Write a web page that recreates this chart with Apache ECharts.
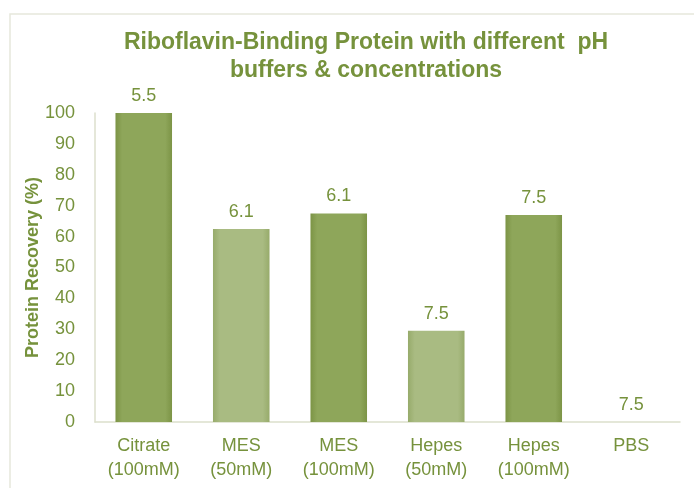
<!DOCTYPE html>
<html>
<head>
<meta charset="utf-8">
<script src="https://cdn.jsdelivr.net/npm/echarts@6/dist/echarts.min.js"></script>
<style>
  html, body { margin: 0; padding: 0; background: #fff; }
  #main { width: 694px; height: 488px; }
</style>
</head>
<body>
<div id="main"></div>
<script>
var categories = ['Citrate\n(100mM)', 'MES\n(50mM)', 'MES\n(100mM)', 'Hepes\n(50mM)', 'Hepes\n(100mM)', 'PBS'];
var recovery = [100, 62.5, 67.5, 29.5, 67, 0];
var phLabels = ['5.5', '6.1', '6.1', '7.5', '7.5', '7.5'];
var isLight = [false, true, false, true, false, false];

var green = '#76923c';

function barFill(light) {
    var edge = light ? '#97ab6b' : '#7c9446';
    var mid = light ? '#a9bb82' : '#8ea65a';
    return new echarts.graphic.LinearGradient(0, 0, 1, 0, [
        { offset: 0, color: edge },
        { offset: 0.12, color: mid },
        { offset: 0.88, color: mid },
        { offset: 1, color: edge }
    ]);
}

var myChart = echarts.init(document.getElementById('main'));

var barData = recovery.map(function (v, i) {
    return {
        value: v,
        itemStyle: { color: barFill(isLight[i]) },
        label: { formatter: phLabels[i] }
    };
});

myChart.setOption({
    animation: false,
    textStyle: { fontFamily: 'Liberation Sans, Arial, sans-serif' },
    title: {
        text: 'Riboflavin-Binding Protein with different  pH\nbuffers & concentrations',
        left: 361,
        top: 24,
        textAlign: 'center',
        textStyle: {
            color: green,
            fontSize: 23,
            fontWeight: 'bold',
            lineHeight: 28,
            fontFamily: 'Liberation Sans, Arial, sans-serif'
        }
    },
    graphic: [{
        type: 'rect',
        shape: { x: 10, y: 14, width: 700, height: 500 },
        style: { fill: 'none', stroke: '#e6e8dc', lineWidth: 1.5 },
        silent: true
    }],
    grid: { left: 95, right: 14, top: 113, bottom: 66 },
    xAxis: {
        type: 'category',
        data: categories,
        axisLine: { lineStyle: { color: '#dcdfcc', width: 1.5 } },
        axisTick: { show: false },
        axisLabel: {
            color: green,
            fontSize: 18,
            lineHeight: 24,
            margin: 12,
            interval: 0
        }
    },
    yAxis: {
        type: 'value',
        min: 0,
        max: 100,
        interval: 10,
        name: 'Protein Recovery (%)',
        nameLocation: 'middle',
        nameGap: 53,
        nameMoveOverlap: false,
        nameTextStyle: { color: green, fontSize: 18, fontWeight: 'bold' },
        axisLine: { show: true, lineStyle: { color: '#dcdfcc', width: 1.5 } },
        axisTick: { show: false },
        splitLine: { show: false },
        axisLabel: { color: green, fontSize: 18, margin: 20 }
    },
    series: [{
        type: 'bar',
        data: barData,
        barWidth: '58%',
        label: {
            show: true,
            position: 'top',
            distance: 8,
            color: green,
            fontSize: 18
        }
    }]
});
</script>
</body>
</html>
